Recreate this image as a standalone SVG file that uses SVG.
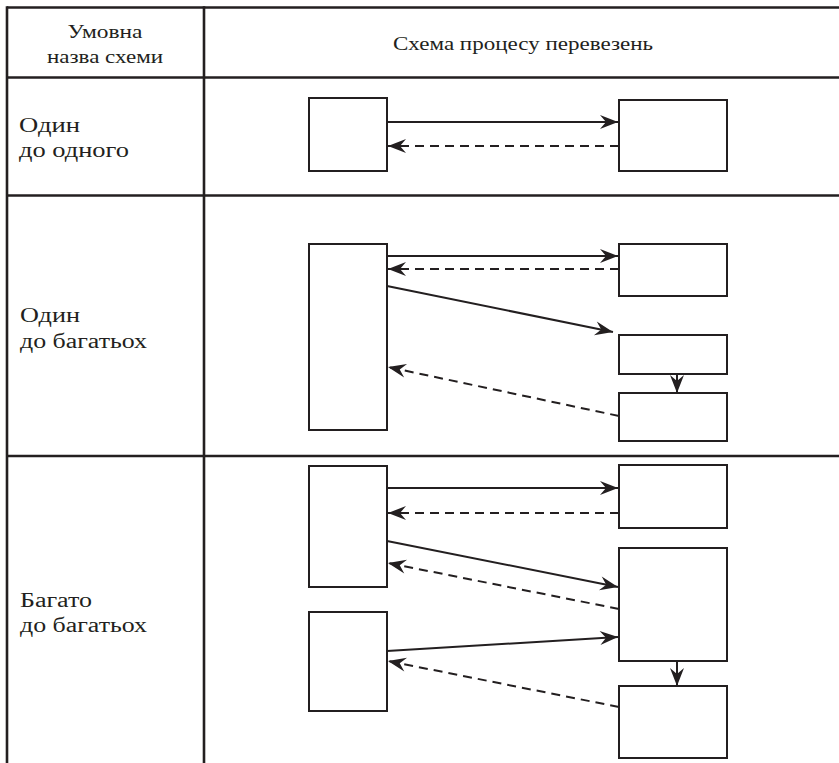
<svg xmlns="http://www.w3.org/2000/svg" width="839" height="763" viewBox="0 0 839 763">
<style>
.grid{stroke:#231f20;stroke-width:2.6;fill:none}
.box{fill:#fff;stroke:#231f20;stroke-width:2}
.solid{stroke:#231f20;stroke-width:2;fill:none}
.dash{stroke:#231f20;stroke-width:2;fill:none;stroke-dasharray:9 6}
.t{font-family:"Liberation Serif","Times New Roman",serif;font-size:20px;fill:#231f20}
.h{font-family:"Liberation Serif","Times New Roman",serif;font-size:19px;fill:#231f20;text-anchor:middle}
</style>
<defs>
<marker id="ah" viewBox="-19 -8 20 16" refX="0" refY="0" markerWidth="20" markerHeight="16" markerUnits="userSpaceOnUse" orient="auto">
<path d="M0,0 L-18,-7 L-12,0 L-18,7 Z" fill="#231f20"/>
</marker>
</defs>
<rect width="839" height="763" fill="#fff"/>
<g id="table">
<line class="grid" x1="7" y1="7.5" x2="839" y2="7.5"/>
<line class="grid" x1="7" y1="77.5" x2="839" y2="77.5"/>
<line class="grid" x1="7" y1="195.5" x2="839" y2="195.5"/>
<line class="grid" x1="7" y1="456" x2="839" y2="456"/>
<line class="grid" x1="7" y1="6.2" x2="7" y2="763"/>
<line class="grid" x1="204" y1="6.2" x2="204" y2="763"/>
</g>
<g id="labels">
<text class="h" x="105" y="38" textLength="75" lengthAdjust="spacingAndGlyphs">Умовна</text>
<text class="h" x="105" y="63" textLength="116" lengthAdjust="spacingAndGlyphs">назва схеми</text>
<text class="h" x="523" y="50" textLength="260" lengthAdjust="spacingAndGlyphs">Схема процесу перевезень</text>
<text class="t" x="19" y="132" textLength="61" lengthAdjust="spacingAndGlyphs">Один</text>
<text class="t" x="19" y="157" textLength="110" lengthAdjust="spacingAndGlyphs">до одного</text>
<text class="t" x="20" y="322" textLength="60" lengthAdjust="spacingAndGlyphs">Один</text>
<text class="t" x="20" y="348" textLength="127" lengthAdjust="spacingAndGlyphs">до багатьох</text>
<text class="t" x="20" y="607" textLength="72" lengthAdjust="spacingAndGlyphs">Багато</text>
<text class="t" x="20" y="632" textLength="127" lengthAdjust="spacingAndGlyphs">до багатьох</text>
</g>
<g id="n1a"><rect class="box" x="309" y="98" width="78" height="73"/></g>
<g id="n1b"><rect class="box" x="619" y="100" width="108" height="71"/></g>
<g id="n2a"><rect class="box" x="309" y="244" width="78" height="186"/></g>
<g id="n2b"><rect class="box" x="619" y="244" width="108" height="52"/></g>
<g id="n2c"><rect class="box" x="619" y="335" width="108" height="39"/></g>
<g id="n2d"><rect class="box" x="619" y="393" width="108" height="48"/></g>
<g id="n3a"><rect class="box" x="309" y="466" width="78" height="121"/></g>
<g id="n3b"><rect class="box" x="619" y="465" width="108" height="63"/></g>
<g id="n3c"><rect class="box" x="619" y="548" width="108" height="113"/></g>
<g id="n3d"><rect class="box" x="309" y="612" width="78" height="99"/></g>
<g id="n3e"><rect class="box" x="619" y="686" width="108" height="72"/></g>
<g id="connectors">
<line class="solid" x1="387" y1="122" x2="618" y2="122" marker-end="url(#ah)"/>
<line class="dash" x1="619" y1="146" x2="388" y2="146" marker-end="url(#ah)"/>
<line class="solid" x1="387" y1="256" x2="618" y2="256" marker-end="url(#ah)"/>
<line class="dash" x1="619" y1="269" x2="388" y2="269" marker-end="url(#ah)"/>
<line class="solid" x1="387" y1="286" x2="613" y2="332" marker-end="url(#ah)"/>
<line class="solid" x1="677" y1="374" x2="677" y2="393" marker-end="url(#ah)"/>
<line class="dash" x1="619" y1="416" x2="388" y2="367" marker-end="url(#ah)"/>
<line class="solid" x1="387" y1="488" x2="618" y2="488" marker-end="url(#ah)"/>
<line class="dash" x1="619" y1="513" x2="388" y2="513" marker-end="url(#ah)"/>
<line class="solid" x1="387" y1="541" x2="618" y2="587" marker-end="url(#ah)"/>
<line class="dash" x1="619" y1="609" x2="388" y2="563" marker-end="url(#ah)"/>
<line class="solid" x1="387" y1="651" x2="618" y2="637" marker-end="url(#ah)"/>
<line class="dash" x1="619" y1="707" x2="388" y2="661" marker-end="url(#ah)"/>
<line class="solid" x1="677" y1="661" x2="677" y2="686" marker-end="url(#ah)"/>
</g>
</svg>
